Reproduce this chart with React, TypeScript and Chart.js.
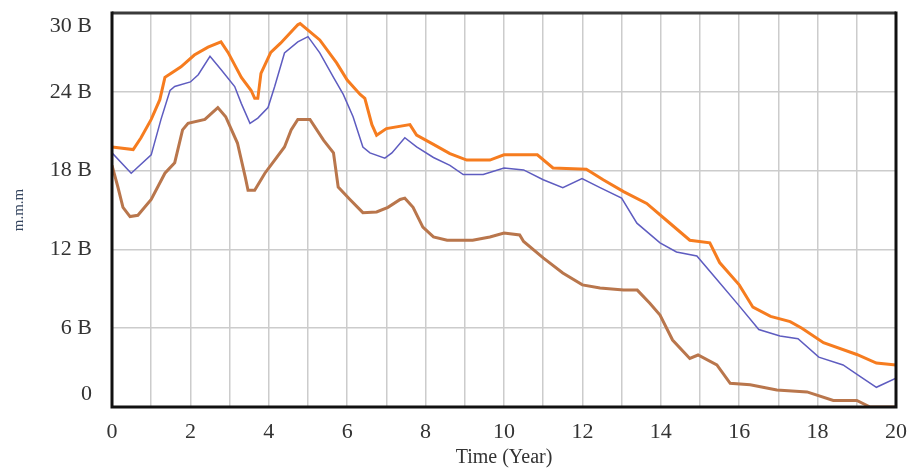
import React, { useEffect, useRef } from "react";
import { Chart, registerables } from "chart.js";

Chart.register(...registerables);

// Time (Year) sample points and values (billions) for each series
const upperTimes = [0, 0.54, 0.74, 1.0, 1.22, 1.35, 1.5, 1.76, 2.1, 2.45, 2.78, 2.96, 3.3, 3.55, 3.64, 3.72, 3.8, 4.05, 4.3, 4.74, 4.8, 5.3, 5.73, 6.0, 6.33, 6.45, 6.63, 6.75, 7.0, 7.6, 7.77, 8.2, 8.62, 9.05, 9.64, 10.0, 10.85, 11.25, 12.1, 12.53, 13.05, 13.64, 14.15, 14.74, 15.25, 15.5, 16.0, 16.35, 16.8, 17.3, 17.6, 18.15, 19.0, 19.5, 20.0];
const upperValues = [19.8, 19.6, 20.5, 21.9, 23.4, 25.1, 25.4, 25.9, 26.8, 27.4, 27.8, 27.0, 25.1, 24.1, 23.5, 23.5, 25.4, 27.0, 27.7, 29.1, 29.2, 27.95, 26.2, 24.9, 23.8, 23.5, 21.5, 20.7, 21.2, 21.5, 20.7, 20.0, 19.3, 18.8, 18.8, 19.2, 19.2, 18.2, 18.1, 17.3, 16.4, 15.5, 14.2, 12.7, 12.5, 11.0, 9.3, 7.6, 6.9, 6.5, 6.0, 4.9, 4.0, 3.35, 3.2];

const middleTimes = [0, 0.49, 1.0, 1.25, 1.48, 1.6, 2.0, 2.2, 2.5, 2.78, 3.13, 3.3, 3.52, 3.72, 3.98, 4.15, 4.4, 4.74, 5.0, 5.3, 5.65, 5.9, 6.15, 6.4, 6.58, 6.96, 7.14, 7.47, 7.77, 8.2, 8.62, 8.96, 9.47, 10.0, 10.5, 11.0, 11.5, 11.99, 12.45, 13.0, 13.39, 13.98, 14.4, 14.92, 15.43, 16.0, 16.5, 17.04, 17.5, 18.03, 18.65, 19.1, 19.5, 20.0];
const middleValues = [19.35, 17.8, 19.2, 21.9, 24.1, 24.4, 24.75, 25.3, 26.7, 25.7, 24.4, 23.1, 21.6, 22.0, 22.8, 24.4, 26.96, 27.8, 28.2, 26.96, 25.1, 23.8, 22.1, 19.8, 19.35, 18.95, 19.35, 20.5, 19.8, 19.0, 18.4, 17.7, 17.7, 18.2, 18.05, 17.3, 16.7, 17.4, 16.7, 15.9, 14.0, 12.5, 11.8, 11.5, 9.7, 7.7, 5.9, 5.4, 5.2, 3.8, 3.2, 2.3, 1.5, 2.2];

const lowerTimes = [0, 0.15, 0.28, 0.46, 0.66, 1.0, 1.35, 1.6, 1.8, 1.94, 2.37, 2.7, 2.9, 3.2, 3.4, 3.47, 3.64, 3.9, 4.15, 4.4, 4.57, 4.74, 5.05, 5.4, 5.65, 5.77, 6.07, 6.4, 6.75, 7.04, 7.35, 7.47, 7.68, 7.93, 8.2, 8.55, 9.2, 9.64, 10.0, 10.4, 10.5, 11.0, 11.5, 12.0, 12.45, 13.05, 13.4, 13.72, 13.98, 14.3, 14.74, 14.95, 15.43, 15.77, 16.28, 16.96, 17.73, 18.4, 19.0, 19.34, 20.0];
const lowerValues = [18.4, 16.75, 15.2, 14.5, 14.6, 15.8, 17.8, 18.6, 21.1, 21.6, 21.9, 22.8, 22.1, 20.1, 17.5, 16.5, 16.5, 17.8, 18.8, 19.8, 21.1, 21.9, 21.9, 20.3, 19.35, 16.75, 15.8, 14.8, 14.85, 15.2, 15.8, 15.9, 15.2, 13.7, 12.95, 12.7, 12.7, 12.95, 13.25, 13.1, 12.6, 11.35, 10.2, 9.3, 9.06, 8.9, 8.9, 7.9, 7.0, 5.1, 3.7, 3.96, 3.2, 1.8, 1.7, 1.3, 1.15, 0.5, 0.5, 0.0, 0.0];

const xTitle = "Time (Year)";
const yTitle = "m.m.m";
const yTickSuffix = " B";

const toPoints = (xs: number[], ys: number[]) => xs.map((x, i) => ({ x, y: ys[i] }));

const framePlugin = {
  id: "frame",
  afterDatasetsDraw(chart: any) {
    const { ctx, chartArea } = chart;
    const { left, right, top, bottom } = chartArea;
    ctx.save();
    ctx.lineWidth = 3;
    ctx.strokeStyle = "#3a3a3a";
    ctx.beginPath();
    ctx.moveTo(left, top);
    ctx.lineTo(right, top);
    ctx.stroke();
    ctx.strokeStyle = "#111111";
    ctx.beginPath();
    ctx.moveTo(left, top - 1.5);
    ctx.lineTo(left, bottom);
    ctx.lineTo(right, bottom);
    ctx.lineTo(right, top - 1.5);
    ctx.stroke();
    ctx.restore();
  },
};

export default function App() {
  const canvasRef = useRef<HTMLCanvasElement | null>(null);

  useEffect(() => {
    document.body.style.margin = "0";
    const canvas = canvasRef.current;
    if (!canvas) return;
    const serif = "'Liberation Serif', 'Times New Roman', serif";
    const chart = new Chart(canvas, {
      type: "line",
      data: {
        datasets: [
          {
            label: "upper",
            data: toPoints(upperTimes, upperValues),
            borderColor: "#f67c1f",
            borderWidth: 3,
            pointRadius: 0,
            tension: 0,
            fill: false,
          },
          {
            label: "middle",
            data: toPoints(middleTimes, middleValues),
            borderColor: "#5e5cc0",
            borderWidth: 1.5,
            pointRadius: 0,
            tension: 0,
            fill: false,
          },
          {
            label: "lower",
            data: toPoints(lowerTimes, lowerValues),
            borderColor: "#b9764c",
            borderWidth: 3,
            pointRadius: 0,
            tension: 0,
            fill: false,
          },
        ],
      },
      options: {
        animation: false,
        responsive: false,
        maintainAspectRatio: false,
        layout: { padding: { top: 13, right: 16, left: 0, bottom: 0 } },
        plugins: {
          legend: { display: false },
          tooltip: { enabled: false },
        },
        scales: {
          x: {
            type: "linear",
            min: 0,
            max: 20,
            border: { display: false },
            grid: { color: "#cccccc", lineWidth: 1.5, drawTicks: false },
            ticks: {
              stepSize: 1,
              autoSkip: false,
              maxRotation: 0,
              padding: 12,
              color: "#333333",
              font: { family: serif, size: 22 },
              callback: (v: any) => (Number(v) % 2 === 0 ? String(v) : ""),
            },
            title: {
              display: true,
              text: xTitle,
              color: "#333333",
              font: { family: serif, size: 20 },
              padding: { top: 0, bottom: 0 },
            },
            afterFit: (scale: any) => {
              scale.height = 63;
              scale.paddingLeft = 0;
              scale.paddingRight = 0;
            },
          },
          y: {
            type: "linear",
            min: 0,
            max: 30,
            border: { display: false },
            grid: { color: "#cccccc", lineWidth: 1.5, drawTicks: false },
            ticks: {
              stepSize: 6,
              padding: 20,
              color: "#333333",
              font: { family: serif, size: 22 },
              callback: (v: any) => {
                const n = Number(v);
                if (n === 0) return ["0", ""];
                if (n === 30) return ["", n + yTickSuffix];
                return n + yTickSuffix;
              },
            },
            title: {
              display: true,
              text: yTitle,
              color: "#34445e",
              font: { family: serif, size: 15 },
              padding: { top: 10, bottom: 0 },
            },
            afterFit: (scale: any) => {
              scale.width = 112;
              scale.paddingTop = 0;
              scale.paddingBottom = 0;
            },
          },
        },
      },
      plugins: [framePlugin],
    });
    return () => chart.destroy();
  }, []);

  return (
    <div style={{ position: "absolute", left: 0, top: 0, width: 912, height: 470, background: "#ffffff" }}>
      <canvas ref={canvasRef} width={912} height={470} style={{ display: "block" }} />
    </div>
  );
}
